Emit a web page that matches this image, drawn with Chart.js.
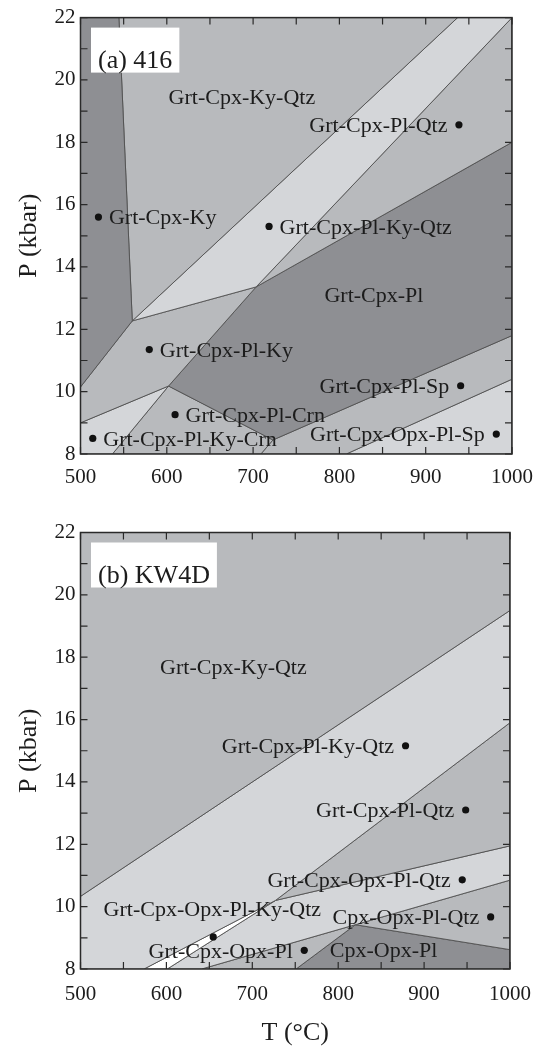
<!DOCTYPE html>
<html><head><meta charset="utf-8">
<script src="https://cdn.jsdelivr.net/npm/chart.js@4.4.1/dist/chart.umd.min.js"></script>
<style>
html,body{margin:0;padding:0;background:#fff;overflow:hidden;width:544px;height:1047px;}
.wrap{position:absolute;left:0;width:544px;}
#wa{top:0;height:500px;}
#wb{top:500px;height:547px;}
canvas{display:block;}
</style></head><body>
<div class="wrap" id="wa"><canvas id="ca" width="544" height="500"></canvas></div>
<div class="wrap" id="wb"><canvas id="cb" width="544" height="547"></canvas></div>
<script>
// ---------- axis ranges / tick labels ----------
const tempRange = [500, 1000];      // T (°C)
const presRange = [8, 22];          // P (kbar)
const tempStep = 100, presStep = 2;

// ---------- panel (a) 416 : region polygons [T, P] ----------
const a_GrtCpxKy       = [[500,22],[544.5,22],[560,12.27],[500,10.15]];
const a_GrtCpxKyQtz    = [[544.5,22],[937,22],[560,12.27]];
const a_GrtCpxPlKyQtz  = [[937,22],[1000,22],[703.5,13.36],[560,12.27]];
const a_GrtCpxPlQtz    = [[1000,22],[1000,18],[703.5,13.36]];
const a_GrtCpxPlKy     = [[500,10.15],[560,12.27],[703.5,13.36],[602,10.18],[500,9.0]];
const a_GrtCpxPl       = [[703.5,13.36],[1000,18],[1000,11.8],[723,8.45],[602,10.18]];
const a_GrtCpxPlKyCrn  = [[500,9.0],[602,10.18],[537,8],[500,8]];
const a_GrtCpxPlCrn    = [[537,8],[602,10.18],[723,8.45],[709,8]];
const a_GrtCpxPlSp     = [[709,8],[723,8.45],[1000,11.8],[1000,10.4],[808,8]];
const a_GrtCpxOpxPlSp  = [[808,8],[1000,10.4],[1000,8]];

// panel (a) labels and assemblage points
const aLabelText = ['Grt-Cpx-Ky-Qtz','Grt-Cpx-Pl-Qtz','Grt-Cpx-Ky','Grt-Cpx-Pl-Ky-Qtz','Grt-Cpx-Pl',
                    'Grt-Cpx-Pl-Ky','Grt-Cpx-Pl-Sp','Grt-Cpx-Pl-Crn','Grt-Cpx-Pl-Ky-Crn','Grt-Cpx-Opx-Pl-Sp'];
const aLabelT    = [687, 938.5, 520.8, 718.5, 840, 579.7, 940.5, 609.6, 514.2, 981.8];
const aLabelP    = [19.45, 18.56, 15.6, 15.3, 13.1, 11.35, 10.19, 9.26, 8.5, 8.64];
const aLabelSide = ['center','left','right','right','center','right','left','right','right','left'];
const aDotT = [938.5, 520.8, 718.5, 579.7, 940.5, 609.6, 514.2, 981.8];
const aDotP = [18.56, 15.6, 15.3, 11.35, 10.19, 9.26, 8.5, 8.64];

// ---------- panel (b) KW4D : region polygons [T, P] ----------
const b_GrtCpxKyQtz      = [[500,22],[1000,22],[1000,19.5],[500,10.33]];
const b_GrtCpxPlKyQtz    = [[500,10.33],[1000,19.5],[1000,15.9],[727,10.2],[574,8],[500,8]];
const b_GrtCpxPlQtz      = [[1000,15.9],[1000,11.95],[727,10.2]];
const b_GrtCpxOpxPlKyQtz = [[574,8],[727,10.2],[601,8]];
const b_GrtCpxOpxPlQtz   = [[601,8],[727,10.2],[1000,11.95],[1000,10.85],[641,8]];
const b_GrtCpxOpxPl      = [[641,8],[820,9.42],[751,8]];
const b_CpxOpxPlQtz      = [[820,9.42],[1000,10.85],[1000,8.62]];
const b_CpxOpxPl         = [[751,8],[820,9.42],[1000,8.62],[1000,8]];

const bLabelText = ['Grt-Cpx-Ky-Qtz','Grt-Cpx-Pl-Ky-Qtz','Grt-Cpx-Pl-Qtz','Grt-Cpx-Opx-Pl-Qtz',
                    'Grt-Cpx-Opx-Pl-Ky-Qtz','Cpx-Opx-Pl-Qtz','Grt-Cpx-Opx-Pl','Cpx-Opx-Pl'];
const bLabelT    = [678, 878.4, 948.4, 944.4, 653.5, 977.5, 760.5, 852.9];
const bLabelP    = [17.7, 15.16, 13.1, 10.86, 9.94, 9.67, 8.6, 8.62];
const bLabelSide = ['center','left','left','left','center','left','left','center'];
const bDotT = [878.4, 948.4, 944.4, 977.5, 760.5, 654.5];
const bDotP = [15.16, 13.1, 10.86, 9.67, 8.6, 9.03];

// ---------- styles ----------
const SHADE = {dark:'#8e8f93', medium:'#b8babd', light:'#d4d6d9', white:'#ffffff'};
const aRegions = [
  [a_GrtCpxKy,'dark'],[a_GrtCpxKyQtz,'medium'],[a_GrtCpxPlKyQtz,'light'],[a_GrtCpxPlQtz,'medium'],
  [a_GrtCpxPlKy,'medium'],[a_GrtCpxPl,'dark'],[a_GrtCpxPlKyCrn,'light'],[a_GrtCpxPlCrn,'medium'],
  [a_GrtCpxPlSp,'medium'],[a_GrtCpxOpxPlSp,'light']];
const bRegions = [
  [b_GrtCpxKyQtz,'medium'],[b_GrtCpxPlKyQtz,'light'],[b_GrtCpxPlQtz,'medium'],[b_GrtCpxOpxPlKyQtz,'white'],
  [b_GrtCpxOpxPlQtz,'light'],[b_GrtCpxOpxPl,'medium'],[b_CpxOpxPlQtz,'medium'],[b_CpxOpxPl,'dark']];

const FONT = "'Liberation Serif','Times New Roman',serif";
const INK = '#1c1c1c';

function regionDatasets(regions){
  return regions.map(([poly, shade]) => {
    const pts = poly.map(([t,p]) => ({x:t, y:p}));
    pts.push({x:poly[0][0], y:poly[0][1]});
    return {type:'line', data:pts, fill:'shape', backgroundColor:SHADE[shade],
            borderColor:'#505050', borderWidth:0.9, pointRadius:0, tension:0, order:2};
  });
}

const overlay = {
  id:'overlay',
  afterDatasetsDraw(chart, args, o){
    const {ctx, chartArea:ca, scales:{x, y}} = chart;
    ctx.save();
    // inward tick marks on all four sides
    ctx.strokeStyle = '#2a2a2a'; ctx.lineWidth = 1.2;
    ctx.beginPath();
    for (let t = tempRange[0]; t <= tempRange[1]; t += tempStep/2){
      const px = x.getPixelForValue(t);
      ctx.moveTo(px, ca.top); ctx.lineTo(px, ca.top+7);
      ctx.moveTo(px, ca.bottom); ctx.lineTo(px, ca.bottom-7);
    }
    for (let p = presRange[0]; p <= presRange[1]; p += presStep/2){
      const py = y.getPixelForValue(p);
      ctx.moveTo(ca.left, py); ctx.lineTo(ca.left+7, py);
      ctx.moveTo(ca.right, py); ctx.lineTo(ca.right-7, py);
    }
    ctx.stroke();
    ctx.lineWidth = 1.5; ctx.strokeStyle = '#2a2a2a';
    ctx.strokeRect(ca.left, ca.top, ca.right-ca.left, ca.bottom-ca.top);

    // field labels
    ctx.font = '22px ' + FONT; ctx.fillStyle = INK; ctx.textBaseline = 'alphabetic';
    o.text.forEach((s, i) => {
      const px = x.getPixelForValue(o.t[i]);
      const py = y.getPixelForValue(o.p[i]) + 7.3;
      const side = o.side[i];
      if (side === 'center'){ ctx.textAlign = 'center'; ctx.fillText(s, px, py); }
      else if (side === 'left'){ ctx.textAlign = 'right'; ctx.fillText(s, px - 11.5, py); }
      else { ctx.textAlign = 'left'; ctx.fillText(s, px + 10.5, py); }
    });

    // panel tag box
    ctx.font = '26px ' + FONT;
    const w = ctx.measureText(o.tag).width;
    const bx = ca.left + 10.5, by = ca.top + 10;
    ctx.fillStyle = '#ffffff';
    ctx.fillRect(bx, by, w + 14, 45);
    ctx.fillStyle = INK; ctx.textAlign = 'left';
    ctx.fillText(o.tag, bx + 7, ca.top + 50);
    ctx.restore();
  }
};

function makeChart(canvasId, regions, dotT, dotP, labels, cfg){
  const dots = dotT.map((t,i) => ({x:t, y:dotP[i]}));
  return new Chart(document.getElementById(canvasId), {
    type:'line',
    data:{datasets:[
      {type:'scatter', data:dots, pointRadius:3.6, pointHoverRadius:3.6, backgroundColor:'#111',
       borderWidth:0, showLine:false, fill:false, order:0},
      ...regionDatasets(regions)
    ]},
    options:{
      responsive:false, animation:false, devicePixelRatio:1,
      layout:{padding:{top:cfg.top, right:22, bottom:0, left:0}},
      plugins:{legend:{display:false}, tooltip:{enabled:false}, overlay:labels},
      events:[],
      scales:{
        x:{type:'linear', min:tempRange[0], max:tempRange[1],
           ticks:{stepSize:tempStep, autoSkip:false, maxRotation:0, padding:cfg.xpad, color:INK,
                  font:{family:FONT, size:21}, callback:v => String(v)},
           grid:{display:false, drawTicks:false}, border:{display:false},
           title:{display:cfg.xTitle, text:'T (°C)', color:INK, font:{family:FONT, size:26, lineHeight:1},
                  padding:{top:0, bottom:1}},
           afterFit:s => { s.height = cfg.xh; }},
        y:{type:'linear', min:presRange[0], max:presRange[1],
           ticks:{stepSize:presStep, autoSkip:false, padding:5, color:INK,
                  font:{family:FONT, size:21}, callback:v => String(v)},
           grid:{display:false, drawTicks:false}, border:{display:false},
           title:{display:true, text:'P (kbar)', color:INK, font:{family:FONT, size:26, lineHeight:1},
                  padding:{top:16.5, bottom:0}},
           afterFit:s => { s.width = 80.5; }}
      }
    },
    plugins:[overlay]
  });
}

makeChart('ca', aRegions, aDotT, aDotP,
  {text:aLabelText, t:aLabelT, p:aLabelP, side:aLabelSide, tag:'(a) 416'},
  {top:16.7, xh:46, xpad:11, xTitle:false});
makeChart('cb', bRegions, bDotT, bDotP,
  {text:bLabelText, t:bLabelT, p:bLabelP, side:bLabelSide, tag:'(b) KW4D'},
  {top:32.5, xh:78, xpad:13, xTitle:true});
</script>
</body></html>
